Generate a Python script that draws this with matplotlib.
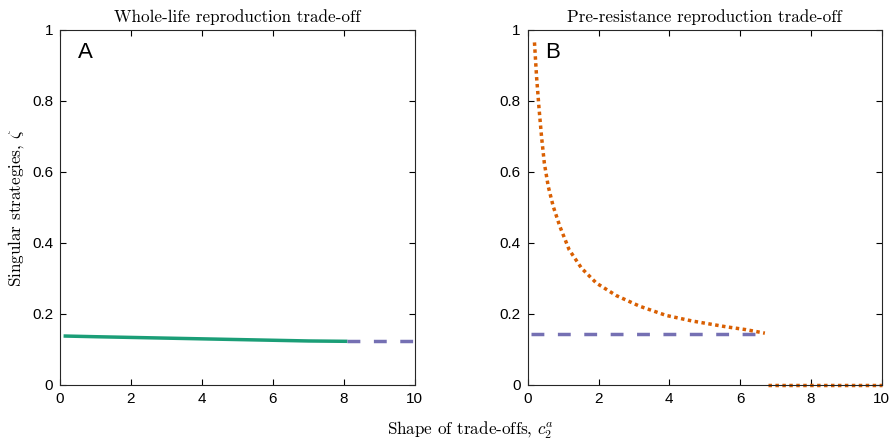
import matplotlib
matplotlib.use("Agg")
import matplotlib.pyplot as plt

plt.rcParams["mathtext.fontset"] = "cm"
plt.rcParams["axes.unicode_minus"] = False

# colores (paleta Dark2)
C_GREEN  = "#1b9e77"
C_ORANGE = "#d95f02"
C_PURPLE = "#7570b3"

# ------------------------------------------------------------------
# Datos
# ------------------------------------------------------------------
# Panel A: estrategia singular continua + rama discontinua
a_x_solid = [0.1, 1.0, 2.0, 3.0, 4.0, 5.0, 6.0, 7.0, 8.1]
a_y_solid = [0.138, 0.136, 0.134, 0.132, 0.130, 0.128, 0.126, 0.124, 0.123]
a_x_dash  = [8.1, 10.0]
a_y_dash  = [0.123, 0.123]

# Panel B: curva punteada, linea discontinua y rama en cero
b_x_dot = [0.19, 0.25, 0.32, 0.39, 0.47, 0.58, 0.72, 0.91, 1.17, 1.52,
           1.94, 2.50, 3.16, 3.91, 4.66, 5.60, 6.16, 6.70]
b_y_dot = [0.965, 0.867, 0.778, 0.699, 0.624, 0.559, 0.503, 0.446, 0.381, 0.329,
           0.287, 0.252, 0.222, 0.196, 0.180, 0.164, 0.156, 0.146]
b_x_dash = [0.1, 6.7]
b_y_dash = [0.145, 0.145]
b_x_zero = [6.8, 10.0]
b_y_zero = [0.0, 0.0]

xticks = [0, 2, 4, 6, 8, 10]
yticks = [0, 0.2, 0.4, 0.6, 0.8, 1]
ytick_labels = ["0", "0.2", "0.4", "0.6", "0.8", "1"]

titles  = ["Whole-life reproduction trade-off", "Pre-resistance reproduction trade-off"]
letters = ["A", "B"]

LW = 2.5
DASH = (3.7, 3.9)
DOT = (1.0, 1.0)

# ------------------------------------------------------------------
fig = plt.figure(figsize=(8.96, 4.41), dpi=100)
axA = fig.add_axes([0.067, 0.127, 0.396, 0.805])
axB = fig.add_axes([0.589, 0.127, 0.395, 0.805])

axA.plot(a_x_solid, a_y_solid, "-", color=C_GREEN, lw=LW, solid_capstyle="butt")
axA.plot(a_x_dash, a_y_dash, "--", color=C_PURPLE, lw=LW, dashes=DASH)

axB.plot(b_x_dash, b_y_dash, "--", color=C_PURPLE, lw=LW, dashes=DASH)
axB.plot(b_x_dot, b_y_dot, ":", color=C_ORANGE, lw=LW, dashes=DOT)
axB.plot(b_x_zero, b_y_zero, ":", color=C_ORANGE, lw=LW, dashes=DOT, clip_on=False)

for ax, title, letter in zip([axA, axB], titles, letters):
    ax.set_xlim(0, 10)
    ax.set_ylim(0, 1)
    ax.set_xticks(xticks)
    ax.set_yticks(yticks)
    ax.set_yticklabels(ytick_labels)
    ax.tick_params(direction="in", top=True, right=True, length=4,
                   width=0.8, labelsize=11, pad=5)
    for lbl in ax.get_xticklabels() + ax.get_yticklabels():
        lbl.set_fontfamily("Liberation Sans")
    for sp in ax.spines.values():
        sp.set_color("#262626")
        sp.set_linewidth(0.8)
    ax.set_title(title, fontfamily="cmr10", fontsize=12.3, pad=6)
    ax.text(0.05, 0.965, letter, transform=ax.transAxes, va="top", ha="left",
            fontsize=16, fontfamily="Liberation Sans")

axA.set_ylabel(r"Singular strategies, $\zeta$", fontfamily="cmr10", fontsize=12.3)
fig.text(0.525, 0.025, r"Shape of trade-offs, $c_2^a$", ha="center", va="center",
         fontfamily="cmr10", fontsize=12.3)

fig.savefig("out.png", dpi=100)
